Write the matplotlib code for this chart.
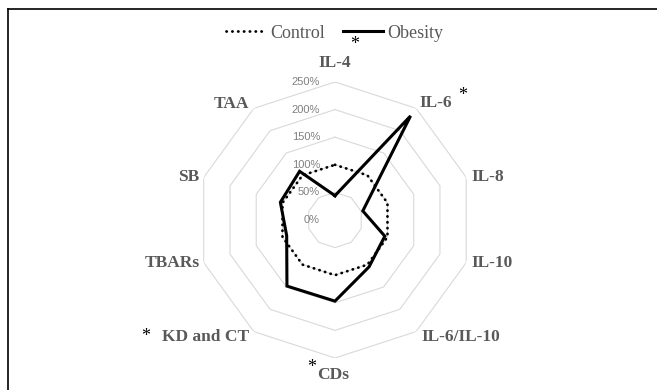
import numpy as np
import matplotlib
matplotlib.use('Agg')
import matplotlib.pyplot as plt
from matplotlib.lines import Line2D

# Radar chart values (% of control)
categories = ['IL-4', 'IL-6', 'IL-8', 'IL-10', 'IL-6/IL-10', 'CDs',
              'KD and CT', 'TBARs', 'SB', 'TAA']
control = [100, 100, 100, 100, 100, 100, 100, 100, 100, 100]
obesity = [44, 233, 53, 95, 105, 147, 148, 92, 104, 109]
significant = [True, True, False, False, False, True, True, False, False, False]
ring_values = [0, 50, 100, 150, 200, 250]
ring_labels = ['0%', '50%', '100%', '150%', '200%', '250%']

serif = 'Liberation Serif'
label_grey = '#595959'

n = len(categories)
angles = np.arange(n) * 2 * np.pi / n
closed = np.append(angles, angles[0])

fig = plt.figure(figsize=(6.57, 3.9), dpi=100)
ax = fig.add_axes([0.2998, 0.0821, 0.4201, 0.7077], projection='polar')
ax.set_theta_zero_location('N')
ax.set_theta_direction(-1)
ax.set_ylim(0, 250)
ax.set_xticks([])
ax.set_yticks([])
ax.grid(False)
ax.spines['polar'].set_visible(False)
ax.patch.set_alpha(0)

# decagon rings
for r in ring_values[1:]:
    ax.plot(closed, [r] * (n + 1), color='#d9d9d9', lw=0.8, zorder=1)

# ring value labels, right of which sits the centre axis
for r, txt in zip(ring_values, ring_labels):
    ax.annotate(txt, xy=(0, r), xytext=(-15, 0), textcoords='offset pixels',
                ha='right', va='center', fontsize=8, color='#808080',
                family='Liberation Sans', annotation_clip=False)

ax.plot(closed, control + control[:1], color='black', lw=2.0,
        linestyle=(0, (0.1, 2.0)), dash_capstyle='round', zorder=3,
        label='Control')
ax.plot(closed, obesity + obesity[:1], color='black', lw=2.2, zorder=4,
        solid_joinstyle='miter', label='Obesity')

# category labels around the outer ring
offsets = [(0, 19, 'center'), (3, 5, 'left'), (5, 0, 'left'), (5, 0, 'left'),
           (5, -5, 'left'), (-2, -17, 'center'), (-5, -5, 'right'),
           (-4, 0, 'right'), (-4, 0, 'right'), (-5, 4, 'right')]
for ang, name, (dx, dy, ha) in zip(angles, categories, offsets):
    ax.annotate(name, xy=(ang, 250), xytext=(dx, dy), textcoords='offset pixels',
                ha=ha, va='center', fontsize=12.5, fontweight='bold',
                color=label_grey, family=serif, annotation_clip=False)

# significance stars
star_offsets = [(20, 42), (47, 17), None, None, None, (-23, -5), (-108, 0),
                None, None, None]
for ang, sig, off in zip(angles, significant, star_offsets):
    if sig and off is not None:
        ax.annotate('*', xy=(ang, 250), xytext=(off[0], off[1] - 9),
                    textcoords='offset pixels', ha='center', va='baseline',
                    fontsize=13, color='black', family=serif,
                    annotation_clip=False)

leg = fig.legend(loc='center', bbox_to_anchor=(0.51, 0.915), ncol=2,
                 frameon=False, handlelength=2.2, handletextpad=0.25,
                 columnspacing=1.0, prop={'family': serif, 'size': 13})
for t in leg.get_texts():
    t.set_color(label_grey)

# frame of the original figure panel
fig.add_artist(Line2D([8 / 657, 1], [1 - 9 / 390, 1 - 9 / 390],
                      transform=fig.transFigure, color='black', lw=1.2))
fig.add_artist(Line2D([8 / 657, 8 / 657], [0, 1 - 9 / 390],
                      transform=fig.transFigure, color='black', lw=1.2))

fig.savefig('out.png', dpi=100)
